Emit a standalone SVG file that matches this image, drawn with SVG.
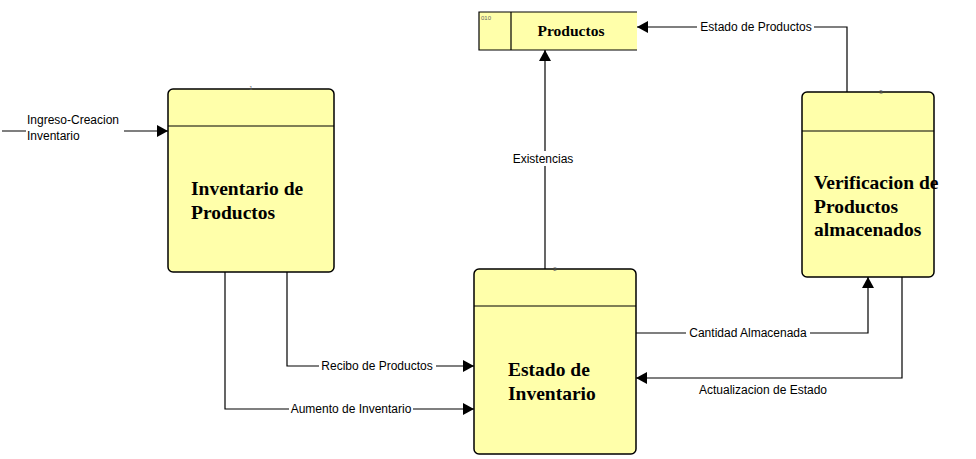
<svg xmlns="http://www.w3.org/2000/svg" width="976" height="459" viewBox="0 0 976 459">
<style>
.box{fill:#ffffaa;stroke:#000;stroke-width:1.5}
.ln{fill:none;stroke:#000;stroke-width:1.2}
.pt{font-family:"Liberation Serif",serif;font-weight:bold;font-size:19.5px;fill:#000}
.lb{font-family:"Liberation Sans",Arial,sans-serif;font-size:12px;fill:#000}
.bg{fill:#fff}
.id{font-family:"Liberation Sans",Arial,sans-serif;font-size:6px;fill:#666}
</style>
<defs>
<marker id="arr" markerWidth="12" markerHeight="12" refX="11" refY="6" orient="auto" markerUnits="userSpaceOnUse">
<path d="M0,0 L11,6 L0,12 Z" fill="#000"/>
</marker>
</defs>
<rect width="976" height="459" fill="#fff"/>
<g id="connectors">
<path class="ln" d="M2,131 H168" marker-end="url(#arr)"/>
<path class="ln" d="M545,269 V50" marker-end="url(#arr)"/>
<path class="ln" d="M847,92 V27 H637" marker-end="url(#arr)"/>
<path class="ln" d="M287,272 V366 H474" marker-end="url(#arr)"/>
<path class="ln" d="M225,272 V409 H474" marker-end="url(#arr)"/>
<path class="ln" d="M636,333 H868 V277" marker-end="url(#arr)"/>
<path class="ln" d="M902,277 V378 H636" marker-end="url(#arr)"/>
<rect class="bg" x="26" y="112" width="98" height="30"/>
<text class="lb" x="27" y="124">Ingreso-Creacion</text>
<text class="lb" x="27" y="140">Inventario</text>
<rect class="bg" x="510" y="151" width="66" height="15"/>
<text class="lb" x="543" y="163" text-anchor="middle">Existencias</text>
<rect class="bg" x="697" y="20" width="117" height="15"/>
<text class="lb" x="756" y="31" text-anchor="middle">Estado de Productos</text>
<rect class="bg" x="319" y="358" width="117" height="15"/>
<text class="lb" x="377" y="370" text-anchor="middle">Recibo de Productos</text>
<rect class="bg" x="289" y="401" width="124" height="15"/>
<text class="lb" x="351" y="413" text-anchor="middle">Aumento de Inventario</text>
<rect class="bg" x="686" y="325" width="124" height="15"/>
<text class="lb" x="748" y="337" text-anchor="middle">Cantidad Almacenada</text>
<text class="lb" x="763" y="394" text-anchor="middle">Actualizacion de Estado</text>
</g>
<g id="productos">
<rect x="479" y="12" width="158" height="38" fill="#ffffaa"/>
<path class="ln" d="M637,12 H479 V50 H637 M511,12 V50" stroke-width="1.5"/>
<text class="id" x="481" y="20">010</text>
<text x="571" y="36" text-anchor="middle" font-family="Liberation Serif,serif" font-weight="bold" font-size="15.5">Productos</text>
</g>
<g id="p1">
<rect class="box" x="168" y="89" width="166" height="183" rx="5"/>
<path class="ln" d="M168,126 H334" stroke-width="1.5"/>
<text class="id" x="251" y="90" text-anchor="middle">1</text>
<text class="pt" x="191" y="195">Inventario de</text>
<text class="pt" x="191" y="219">Productos</text>
</g>
<g id="p2">
<rect class="box" x="474" y="269" width="162" height="185" rx="5"/>
<path class="ln" d="M474,306 H636" stroke-width="1.5"/>
<text class="id" x="555" y="271" text-anchor="middle">2</text>
<text class="pt" x="508" y="376">Estado de</text>
<text class="pt" x="508" y="400">Inventario</text>
</g>
<g id="p3">
<rect class="box" x="802" y="92" width="132" height="185" rx="5"/>
<path class="ln" d="M802,131 H934" stroke-width="1.5"/>
<text class="id" x="881" y="94" text-anchor="middle">3</text>
<text class="pt" x="814" y="189">Verificacion de</text>
<text class="pt" x="814" y="213">Productos</text>
<text class="pt" x="814" y="236">almacenados</text>
</g>
</svg>
